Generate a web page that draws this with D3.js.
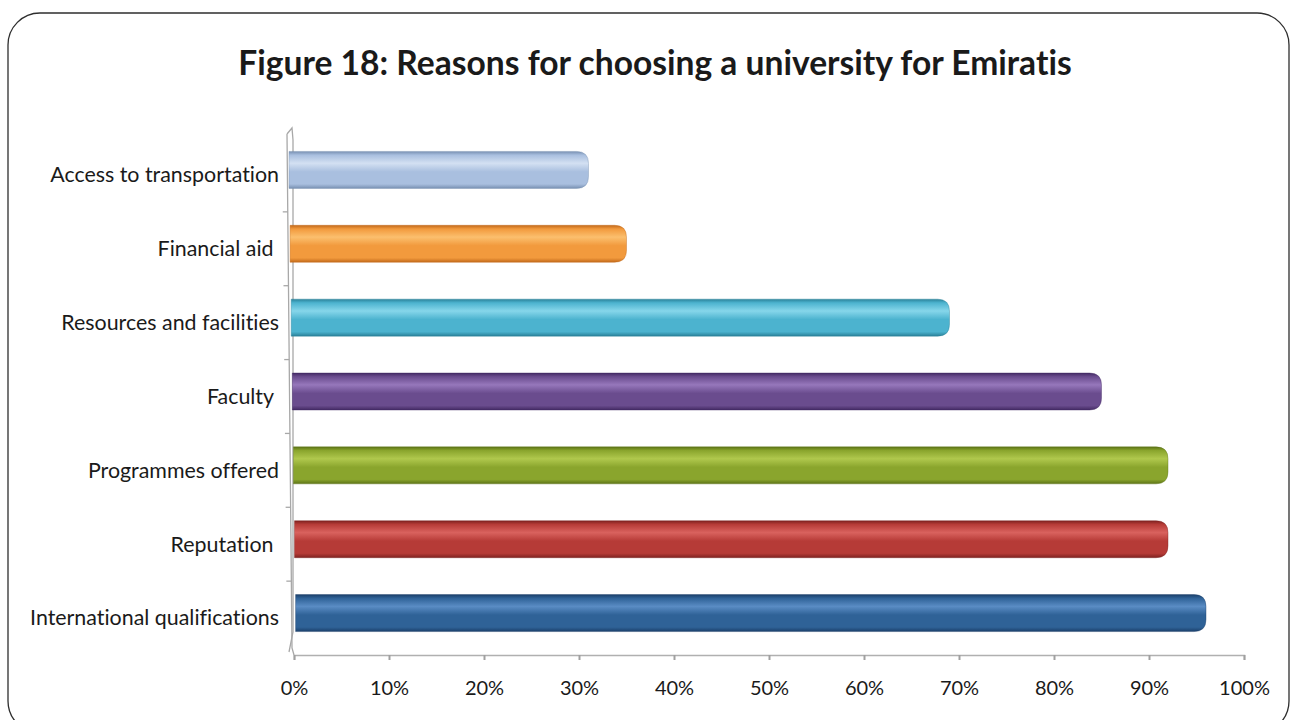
<!DOCTYPE html>
<html>
<head>
<meta charset="utf-8">
<script src="https://cdn.jsdelivr.net/npm/d3@7"></script>
<style>
  html, body { margin: 0; padding: 0; background: #fff; }
  svg { display: block; }
  text { font-family: Lato, "Noto Sans", sans-serif; fill: #1a1a1a; white-space: pre;
         font-variant-ligatures: none; font-feature-settings: "liga" 0, "clig" 0; }
</style>
</head>
<body>
<svg id="chart" width="1290" height="720"></svg>
<script>
// Categories, top to bottom as drawn
const categories = [
  "Access to transportation",
  "Financial aid ",
  "Resources and facilities",
  "Faculty ",
  "Programmes offered",
  "Reputation ",
  "International qualifications"
];
// Share of respondents (%)
const values = [31, 35, 69, 85, 92, 92, 96];
// Bar colours: [highlight, body, shadow]
const barColors = [
  ["#d3e0f2", "#a9bfdf", "#7890b2"],
  ["#fbbf6e", "#f29a3d", "#c2691a"],
  ["#86d6ea", "#4cb3cf", "#2a8199"],
  ["#9677bb", "#6a4c8e", "#432a63"],
  ["#b0c84d", "#8aa52d", "#5c7316"],
  ["#d9625e", "#b63b37", "#7e2220"],
  ["#5a8cc4", "#2f6297", "#1b3f6a"]
];
const tickValues = [0, 10, 20, 30, 40, 50, 60, 70, 80, 90, 100];
const title = "Figure 18: Reasons for choosing a university for Emiratis";

const svg = d3.select("#chart");

// Rounded frame around the figure
svg.append("rect")
  .attr("x", 8).attr("y", 13)
  .attr("width", 1281).attr("height", 720)
  .attr("rx", 32).attr("ry", 32)
  .attr("fill", "none")
  .attr("stroke", "#2e2e2e")
  .attr("stroke-width", 1.3);

svg.append("text")
  .attr("x", 655).attr("y", 75)
  .attr("text-anchor", "middle")
  .attr("font-size", 33.6)
  .attr("font-weight", "bold")
  .text(title);

const x = d3.scaleLinear().domain([0, 100]).range([294, 1244]);
const band = d3.scaleBand().domain(categories).range([138, 655]);

// Gradients for the cylinder shading
const defs = svg.append("defs");
barColors.forEach((c, i) => {
  const g = defs.append("linearGradient")
    .attr("id", "bar" + i)
    .attr("x1", 0).attr("y1", 0).attr("x2", 0).attr("y2", 1);
  g.append("stop").attr("offset", "0%").attr("stop-color", c[2]);
  g.append("stop").attr("offset", "10%").attr("stop-color", c[1]);
  g.append("stop").attr("offset", "32%").attr("stop-color", c[0]);
  g.append("stop").attr("offset", "55%").attr("stop-color", c[1]);
  g.append("stop").attr("offset", "88%").attr("stop-color", c[1]);
  g.append("stop").attr("offset", "100%").attr("stop-color", c[2]);
});

// Side wall (value axis base) and its tick marks
const wall = svg.append("g").attr("stroke", "#a8a8a8").attr("fill", "none").attr("stroke-width", 1.3);
wall.append("path").attr("d", "M287,134 L292,128 L293,140 M287,134 L292,648 L294,655");
wall.append("path").attr("d", "M293,140 L293,632 L289,652");
band.domain().forEach((d, i) => {
  const yy = band(d);
  const xx = 287 + (yy - 134) / (648 - 134) * 5;
  if (i > 0) wall.append("line").attr("x1", xx - 5).attr("x2", xx).attr("y1", yy).attr("y2", yy);
});

// Category axis labels
svg.append("g").selectAll("text")
  .data(categories)
  .join("text")
  .attr("x", 279)
  .attr("y", d => band(d) + band.bandwidth() / 2 + 2)
  .attr("text-anchor", "end")
  .attr("dominant-baseline", "middle")
  .attr("font-size", 21.4)
  .text(d => d);

// Bars
const bh = 37;
svg.append("g").selectAll("path")
  .data(categories)
  .join("path")
  .attr("d", (d, i) => {
    const cy = band(d) + band.bandwidth() / 2 - 5;
    const x0 = 289 + i * 1.1;
    const x1 = x(values[i]);
    const r = 12;
    const t = cy - bh / 2, b = cy + bh / 2;
    return `M${x0},${t} L${x1 - r},${t} Q${x1},${t} ${x1},${t + r} L${x1},${b - r} Q${x1},${b} ${x1 - r},${b} L${x0},${b} Z`;
  })
  .attr("fill", (d, i) => `url(#bar${i})`)
  .attr("stroke", (d, i) => barColors[i][2])
  .attr("stroke-opacity", 0.5)
  .attr("stroke-width", 0.8);

// Value axis
const xAxis = svg.append("g")
  .attr("transform", "translate(0,655)")
  .call(d3.axisBottom(x).tickValues(tickValues).tickFormat(d => d + "%").tickSize(5).tickPadding(21));
xAxis.select(".domain").attr("stroke", "#b0b0b0").attr("stroke-width", 1.5);
xAxis.selectAll(".tick line").attr("stroke", "#a0a0a0").attr("stroke-width", 2);
xAxis.selectAll(".tick text")
  .attr("font-size", 20)
  .attr("fill", "#1a1a1a")
  .style("font-family", "Lato, 'Noto Sans', sans-serif");
</script>
</body>
</html>
